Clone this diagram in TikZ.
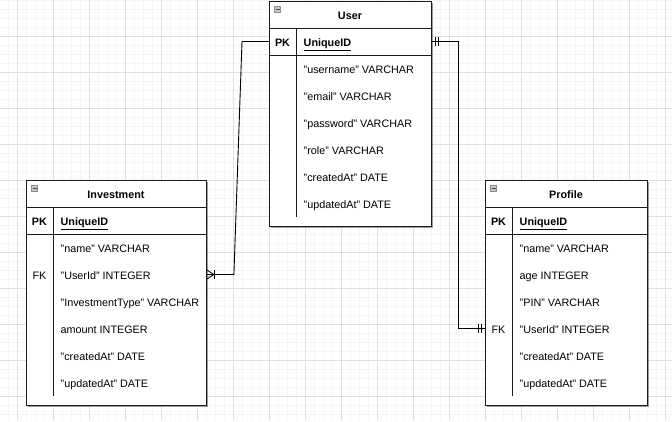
\documentclass[tikz,border=0pt]{standalone}
\usepackage{fontspec}
\setmainfont{Liberation Sans}
\usetikzlibrary{shadows}
\definecolor{gridminor}{HTML}{F5F5F5}
\definecolor{gridmajor}{HTML}{E0E0E0}
\definecolor{tblline}{HTML}{1A1A1A}
\tikzset{
  tblbox/.style={draw=tblline, fill=white, line width=0.9pt, inner sep=0pt,
    drop shadow={shadow xshift=1.6pt, shadow yshift=-1.6pt, fill=black!55, opacity=0.7}},
  sepline/.style={draw=tblline, line width=0.9pt},
  titletxt/.style={font=\fontsize{10.8}{13}\selectfont\bfseries, inner sep=0pt},
  keytxt/.style={font=\fontsize{10.8}{13}\selectfont, inner sep=0pt, text height=10pt, text depth=2.2pt},
  rowtxt/.style={font=\fontsize{10.8}{13}\selectfont, inner sep=0pt, anchor=west, text height=10pt, text depth=2.2pt},
  iconbox/.style={draw=black!45, fill=black!22, line width=0.4pt, minimum size=6pt, inner sep=0pt},
  conn/.style={draw=black, line width=0.9pt},
  marker/.style={draw=black, line width=0.9pt},
}
\newcommand\myuline[1]{\underline{#1}}
% #1 name, #2 x, #3 y, #4 width, #5 title, #6 rows (key/text)
\newcommand\ERtable[6]{%
  \node[tblbox, minimum width=#4pt, minimum height=225pt, anchor=north west] (#1) at (#2,#3) {};
  \node[iconbox] (#1-icon) at (#2+8.5,#3+8.5) {};
  \draw[black!70, line width=0.6pt] (#1-icon.west) ++(1.2pt,0) -- ([xshift=-1.2pt]#1-icon.east);
  \node[titletxt] (#1-title) at (#2+#4/2,#3+15) {#5};
  \draw[sepline] (#2,#3+27) -- ++(#4,0);
  \draw[sepline] (#2,#3+54) -- ++(#4,0);
  \draw[sepline] (#2+27,#3+27) -- (#2+27,#3+216);
  \node[keytxt, font=\fontsize{10.8}{13}\selectfont\bfseries] (#1-pkkey) at (#2+13.5,#3+41.5) {PK};
  \node[rowtxt] (#1-pk) at (#2+34.5,#3+41.5) {\myuline{\textbf{UniqueID}}};
  \foreach \k/\t [count=\i] in {#6} {
    \node[keytxt] (#1-key\i) at (#2+13.5,#3+68.5+27*\i-27) {\k};
    \node[rowtxt] (#1-\i) at (#2+34.5,#3+68.5+27*\i-27) {\t};
  }
}
\begin{document}
\begin{tikzpicture}[x=1pt,y=-1pt]
\useasboundingbox (0,0) rectangle (672,421);
\fill[white] (0,0) rectangle (672,421);
% grid
\foreach \gx in {8,17,...,672} \draw[gridminor, line width=0.5pt] (\gx,0) -- (\gx,421);
\foreach \gy in {0,9,...,421} \draw[gridminor, line width=0.5pt] (0,\gy) -- (672,\gy);
\foreach \gx in {17,53,...,672} \draw[gridmajor, line width=0.6pt] (\gx,0) -- (\gx,421);
\foreach \gy in {36,72,...,421} \draw[gridmajor, line width=0.6pt] (0,\gy) -- (672,\gy);

\ERtable{user}{269}{1}{162}{User}{{}/"username" VARCHAR,{}/"email" VARCHAR,{}/"password" VARCHAR,{}/"role" VARCHAR,{}/"createdAt" DATE,{}/"updatedAt" DATE}
\ERtable{inv}{26}{180}{180}{Investment}{{}/"name" VARCHAR,FK/"UserId" INTEGER,{}/"InvestmentType" VARCHAR,{}/amount INTEGER,{}/"createdAt" DATE,{}/"updatedAt" DATE}
\ERtable{prof}{485}{180}{162}{Profile}{{}/"name" VARCHAR,{}/age INTEGER,{}/"PIN" VARCHAR,FK/"UserId" INTEGER,{}/"createdAt" DATE,{}/"updatedAt" DATE}

% connector anchors
\coordinate (uL) at ([yshift=1pt]user.west |- user-pk);
\coordinate (uR) at ([yshift=1pt]user.east |- user-pk);
\coordinate (iR) at ([yshift=1pt]inv.east |- inv-2);
\coordinate (pL) at ([yshift=1pt]prof.west |- prof-4);

% User -- Investment
\draw[conn] (uL) -- ++(-27,0) -- ([xshift=27pt]iR) -- (iR);
\draw[marker] ([yshift=4.5pt]iR) -- ([xshift=7pt]iR) -- ([yshift=-4.5pt]iR);
\draw[marker] ([xshift=8pt,yshift=4.5pt]iR) -- ([xshift=8pt,yshift=-4.5pt]iR);

% User -- Profile
\draw[conn] (uR) -- ++(27,0) |- (pL);
\draw[marker] ([xshift=4pt,yshift=4.5pt]uR) -- ([xshift=4pt,yshift=-4.5pt]uR);
\draw[marker] ([xshift=7pt,yshift=4.5pt]uR) -- ([xshift=7pt,yshift=-4.5pt]uR);
\draw[marker] ([xshift=-4pt,yshift=4.5pt]pL) -- ([xshift=-4pt,yshift=-4.5pt]pL);
\draw[marker] ([xshift=-7pt,yshift=4.5pt]pL) -- ([xshift=-7pt,yshift=-4.5pt]pL);
\end{tikzpicture}
\end{document}
